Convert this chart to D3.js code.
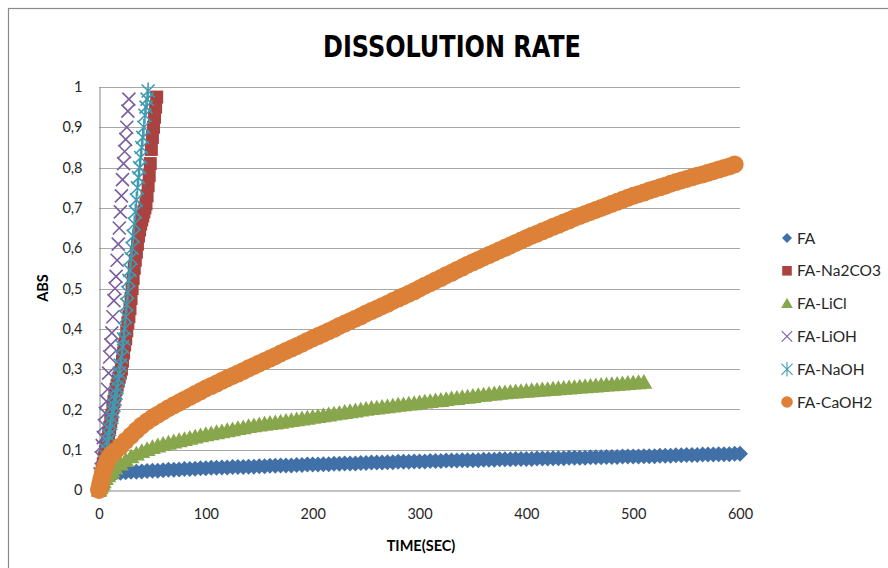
<!DOCTYPE html>
<html>
<head>
<meta charset="utf-8">
<script src="https://cdn.jsdelivr.net/npm/d3@7"></script>
<style>
  html, body { margin: 0; padding: 0; background: #ffffff; }
  svg { display: block; }
</style>
</head>
<body>
<svg id="chart" width="888" height="568"></svg>
<script>
// ---- data -------------------------------------------------------------
const SERIES_NAMES = ["FA", "FA-Na2CO3", "FA-LiCl", "FA-LiOH", "FA-NaOH", "FA-CaOH2"];

const X_TICKS = [0, 100, 200, 300, 400, 500, 600];
const X_TICK_LABELS = ["0", "100", "200", "300", "400", "500", "600"];
const Y_TICKS = [0, 0.1, 0.2, 0.3, 0.4, 0.5, 0.6, 0.7, 0.8, 0.9, 1];
const Y_TICK_LABELS = ["0", "0,1", "0,2", "0,3", "0,4", "0,5", "0,6", "0,7", "0,8", "0,9", "1"];

// sampling times (s): dense at the start, then every 5 s
const EARLY_TIMES = [0, 1, 2, 3, 4, 6, 8, 10, 12, 15];
const STEP = 5;
const FA_TIME    = EARLY_TIMES.concat(d3.range(20, 601, STEP));
const LICL_TIME  = EARLY_TIMES.concat(d3.range(20, 511, STEP));
const CAOH2_TIME = EARLY_TIMES.concat(d3.range(20, 596, STEP));
const NA2CO3_TIME = d3.range(0, 55, 1);
const LIOH_TIME   = d3.range(0, 29, 1);
const NAOH_TIME   = d3.range(0, 47, 1);

// absorbance readings
const FA_ABS = [
  0, 0.008, 0.016, 0.023, 0.028, 0.034, 0.038, 0.040, 0.041, 0.042,
  0.043, 0.044, 0.045, 0.045, 0.046, 0.047, 0.048, 0.048, 0.049, 0.050, 0.050, 0.051, 0.052, 0.052, 0.053, 0.054, 0.054,
  0.055, 0.055, 0.056, 0.056, 0.057, 0.057, 0.057, 0.058, 0.058, 0.059, 0.059, 0.060, 0.060, 0.061, 0.061, 0.061, 0.062, 0.062, 0.063, 0.063,
  0.063, 0.064, 0.064, 0.065, 0.065, 0.066, 0.066, 0.066, 0.067, 0.067, 0.068, 0.068, 0.068, 0.069, 0.069, 0.070, 0.070, 0.070, 0.071, 0.071,
  0.071, 0.072, 0.072, 0.072, 0.073, 0.073, 0.073, 0.074, 0.074, 0.074, 0.074, 0.075, 0.075, 0.075, 0.076, 0.076, 0.076, 0.077, 0.077, 0.077,
  0.077, 0.078, 0.078, 0.078, 0.079, 0.079, 0.079, 0.080, 0.080, 0.080, 0.080, 0.081, 0.081, 0.081, 0.082, 0.082, 0.082, 0.083, 0.083, 0.083,
  0.083, 0.084, 0.084, 0.084, 0.085, 0.085, 0.085, 0.086, 0.086, 0.087, 0.087, 0.087, 0.088, 0.088, 0.088, 0.089, 0.089, 0.089, 0.090, 0.090
];

const NA2CO3_ABS = [
  0.00, 0.02, 0.035, 0.05, 0.065, 0.08, 0.095, 0.11, 0.125, 0.14,
  0.155, 0.17, 0.185, 0.205, 0.22, 0.235, 0.25, 0.26, 0.27, 0.28,
  0.29, 0.30, 0.32, 0.34, 0.36, 0.375, 0.395, 0.415, 0.43, 0.45,
  0.475, 0.50, 0.525, 0.55, 0.57, 0.59, 0.61, 0.63, 0.645, 0.66,
  0.67, 0.68, 0.69, 0.70, 0.71, 0.73, 0.755, 0.78, 0.81, 0.845,
  0.875, 0.90, 0.925, 0.95, 0.975
];

const LICL_ABS = [
  0, 0.005, 0.010, 0.015, 0.020, 0.028, 0.035, 0.041, 0.047, 0.054,
  0.064, 0.073, 0.082, 0.089, 0.095, 0.100, 0.105, 0.109, 0.113, 0.116, 0.119, 0.122, 0.125, 0.128, 0.131, 0.134, 0.137,
  0.139, 0.142, 0.144, 0.147, 0.149, 0.152, 0.154, 0.157, 0.159, 0.161,
  0.163, 0.165, 0.166, 0.168, 0.170, 0.172, 0.174, 0.176, 0.178, 0.180, 0.182, 0.184, 0.186, 0.188, 0.190, 0.192, 0.194, 0.196, 0.198, 0.200,
  0.202, 0.203, 0.205, 0.206, 0.208, 0.210, 0.211, 0.213, 0.214, 0.216, 0.218, 0.219, 0.221, 0.222, 0.224, 0.226, 0.227, 0.229, 0.230, 0.232,
  0.234, 0.235, 0.237, 0.238, 0.240,
  0.241, 0.242, 0.243, 0.244, 0.245, 0.246, 0.247, 0.248, 0.249, 0.250, 0.251, 0.252, 0.253, 0.254, 0.255, 0.256, 0.257, 0.258, 0.259, 0.260,
  0.261, 0.262, 0.263, 0.264, 0.265, 0.266, 0.267
];

const LIOH_ABS = [
  0.00, 0.04, 0.08, 0.11, 0.13, 0.16, 0.19, 0.22, 0.25, 0.29,
  0.33, 0.36, 0.39, 0.43, 0.47, 0.50, 0.53, 0.57, 0.61, 0.65,
  0.69, 0.73, 0.77, 0.81, 0.84, 0.87, 0.90, 0.94, 0.97
];

const NAOH_ABS = [
  0.00, 0.01, 0.025, 0.04, 0.05, 0.07, 0.085, 0.10, 0.12, 0.135,
  0.15, 0.165, 0.18, 0.195, 0.21, 0.225, 0.24, 0.255, 0.275, 0.29,
  0.31, 0.33, 0.355, 0.375, 0.40, 0.43, 0.46, 0.49, 0.52, 0.545,
  0.575, 0.60, 0.63, 0.66, 0.69, 0.72, 0.75, 0.775, 0.80, 0.825,
  0.85, 0.875, 0.90, 0.93, 0.95, 0.97, 0.99
];

const CAOH2_ABS = [
  0, 0.012, 0.024, 0.035, 0.045, 0.060, 0.073, 0.082, 0.089, 0.096,
  0.108, 0.122, 0.135, 0.148, 0.160, 0.170, 0.179, 0.187, 0.195, 0.203, 0.210, 0.217, 0.224, 0.231, 0.238, 0.245, 0.252,
  0.258, 0.264, 0.271, 0.277, 0.283, 0.289, 0.295, 0.302, 0.308, 0.314, 0.320, 0.326, 0.332, 0.339, 0.345, 0.351, 0.357, 0.363, 0.370, 0.376,
  0.382, 0.388, 0.394, 0.400, 0.407, 0.413, 0.419, 0.425, 0.431, 0.438, 0.444, 0.450, 0.456, 0.462, 0.469, 0.475, 0.481, 0.487, 0.493, 0.500,
  0.507, 0.513, 0.520, 0.526, 0.533, 0.539, 0.546, 0.552, 0.559, 0.565,
  0.571, 0.577, 0.583, 0.589, 0.595, 0.601, 0.607, 0.613, 0.619, 0.625,
  0.631, 0.636, 0.642, 0.647, 0.653, 0.658, 0.664, 0.669, 0.675, 0.680,
  0.685, 0.690, 0.695, 0.700, 0.705, 0.710, 0.715, 0.720, 0.725, 0.730,
  0.734, 0.738, 0.743, 0.747, 0.751, 0.755, 0.760, 0.764, 0.768, 0.772,
  0.776, 0.780, 0.783, 0.787, 0.791, 0.795, 0.799, 0.803, 0.808
];

// ---- styling ----------------------------------------------------------
const COLORS = ["#4170A8", "#AA4340", "#88A64B", "#7A5E9E", "#3E9BB3", "#DC8137"];
const SHAPES = ["diamond", "square", "triangle", "cross", "star", "circle"];
const PLOT_SIZES = [8, 6.5, 8.5, 6.5, 6.5, 9];
const LEGEND_SIZES = [5, 4.8, 5.8, 5.2, 5.6, 5.8];

const seriesList = [
  { time: FA_TIME,     abs: FA_ABS },
  { time: NA2CO3_TIME, abs: NA2CO3_ABS },
  { time: LICL_TIME,   abs: LICL_ABS },
  { time: LIOH_TIME,   abs: LIOH_ABS },
  { time: NAOH_TIME,   abs: NAOH_ABS },
  { time: CAOH2_TIME,  abs: CAOH2_ABS }
].map((s, i) => ({
  name: SERIES_NAMES[i],
  color: COLORS[i],
  shape: SHAPES[i],
  points: d3.zip(s.time, s.abs).slice(0, Math.min(s.time.length, s.abs.length))
}));

// marker outline centred on the origin
function markerPath(shape, s) {
  switch (shape) {
    case "diamond":  return `M0,${-s}L${s},0L0,${s}L${-s},0Z`;
    case "square":   return `M${-s},${-s}H${s}V${s}H${-s}Z`;
    case "triangle": return `M0,${-s}L${s},${s * 0.75}L${-s},${s * 0.75}Z`;
    case "cross":    return `M${-s},${-s}L${s},${s}M${-s},${s}L${s},${-s}`;
    case "star":     return `M${-s},${-s}L${s},${s}M${-s},${s}L${s},${-s}M0,${-s * 1.3}L0,${s * 1.3}`;
    default: return null;
  }
}
const isStroked = shape => shape === "cross" || shape === "star";

function drawMarker(g, shape, color, size, cx, cy, strokeW) {
  if (shape === "circle") {
    g.append("circle").attr("cx", cx).attr("cy", cy).attr("r", size).attr("fill", color);
  } else {
    const p = g.append("path")
      .attr("transform", `translate(${cx},${cy})`)
      .attr("d", markerPath(shape, size));
    if (isStroked(shape)) p.attr("fill", "none").attr("stroke", color).attr("stroke-width", strokeW);
    else p.attr("fill", color);
  }
}

// ---- layout -----------------------------------------------------------
const svg = d3.select("#chart");
const FONT = "Lato, 'Open Sans', 'Liberation Sans', sans-serif";

svg.append("rect").attr("width", 888).attr("height", 568).attr("fill", "#ffffff");
// chart frame (runs past the right and bottom edges)
svg.append("rect")
  .attr("x", 8.5).attr("y", 8.5).attr("width", 900).attr("height", 600)
  .attr("fill", "none").attr("stroke", "#8a8a8a").attr("stroke-width", 1.2);

const x = d3.scaleLinear().domain([0, 600]).range([99, 740]);
const y = d3.scaleLinear().domain([0, 1]).range([490, 87]);

// horizontal gridlines
svg.append("g")
  .selectAll("line")
  .data(Y_TICKS.filter(d => d > 0))
  .join("line")
  .attr("x1", x(0)).attr("x2", x(600))
  .attr("y1", d => Math.round(y(d)) + 0.5).attr("y2", d => Math.round(y(d)) + 0.5)
  .attr("stroke", "#a8a8a8").attr("stroke-width", 1);

// axes
const yAxis = d3.axisLeft(y).tickValues(Y_TICKS)
  .tickFormat((d, i) => Y_TICK_LABELS[i]).tickSize(0).tickPadding(17);
const xAxis = d3.axisBottom(x).tickValues(X_TICKS)
  .tickFormat((d, i) => X_TICK_LABELS[i]).tickSize(0).tickPadding(15);

const gy = svg.append("g").attr("transform", `translate(${x(0) + 0.5},0)`).call(yAxis);
const gx = svg.append("g").attr("transform", `translate(0,${Math.round(y(0)) + 0.5})`).call(xAxis);
[gy, gx].forEach(g => {
  g.select(".domain").attr("stroke", "#868686").attr("stroke-width", 1);
  g.selectAll("text").attr("font-family", FONT).attr("font-size", 14.5).attr("fill", "#262626");
});
gx.selectAll("text").attr("dy", "0.9em");

// series markers, drawn in legend order
seriesList.forEach((s, i) => {
  const g = svg.append("g").attr("class", "series");
  s.points.forEach(([t, v]) => {
    drawMarker(g, s.shape, s.color, PLOT_SIZES[i], x(t), y(v), 1.6);
  });
});

// titles
svg.append("text")
  .attr("x", 452).attr("y", 57)
  .attr("text-anchor", "middle")
  .attr("font-family", "'Liberation Sans Narrow', 'DejaVu Sans Condensed', Lato, sans-serif")
  .attr("font-weight", "bold").attr("font-size", 30)
  .attr("textLength", 258).attr("lengthAdjust", "spacingAndGlyphs")
  .attr("fill", "#000")
  .text("DISSOLUTION RATE");

svg.append("text")
  .attr("transform", `translate(48,288) rotate(-90)`)
  .attr("text-anchor", "middle")
  .attr("font-family", FONT).attr("font-weight", "bold").attr("font-size", 14.5)
  .attr("fill", "#000")
  .text("ABS");

svg.append("text")
  .attr("x", 421).attr("y", 551)
  .attr("text-anchor", "middle")
  .attr("font-family", FONT).attr("font-weight", "bold").attr("font-size", 14.5)
  .attr("fill", "#000")
  .text("TIME(SEC)");

// legend
const legend = svg.append("g");
seriesList.forEach((s, i) => {
  const ly = 238 + i * 32.8;
  drawMarker(legend, s.shape, s.color, LEGEND_SIZES[i], 787, ly, 1.1);
  legend.append("text")
    .attr("x", 797).attr("y", ly).attr("dy", "0.36em")
    .attr("font-family", FONT).attr("font-size", 15.5).attr("fill", "#262626")
    .text(s.name);
});
</script>
</body>
</html>
